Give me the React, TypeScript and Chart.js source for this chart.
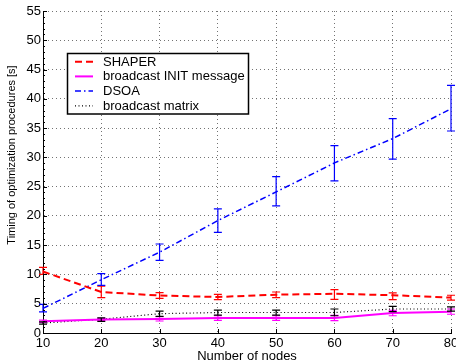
import React, { useEffect, useRef } from "react";
import { Chart, registerables } from "chart.js";

Chart.register(...registerables);

const nodes = [10, 20, 30, 40, 50, 60, 70, 80];

const shaperMean = [10.5, 7.0, 6.4, 6.15, 6.55, 6.7, 6.45, 6.05];
const shaperLow = [10.0, 6.05, 5.9, 5.7, 6.05, 5.75, 5.7, 5.6];
const shaperHigh = [11.2, 8.0, 6.9, 6.6, 7.0, 7.4, 6.85, 6.45];

const initMean = [2.0, 2.3, 2.4, 2.55, 2.55, 2.55, 3.4, 3.65];
const initLow = [1.8, 2.1, 2.05, 2.15, 2.15, 2.1, 2.95, 3.2];
const initHigh = [2.2, 2.5, 2.8, 2.95, 2.95, 3.0, 3.85, 4.1];

const dsoaMean = [4.2, 9.1, 13.8, 19.2, 24.1, 29.05, 33.2, 38.3];
const dsoaLow = [3.6, 8.15, 12.4, 17.2, 21.7, 26.0, 29.7, 34.5];
const dsoaHigh = [4.9, 10.15, 15.2, 21.2, 26.7, 32.0, 36.6, 42.3];

const matrixMean = [1.7, 2.35, 3.3, 3.5, 3.5, 3.5, 4.1, 4.1];
const matrixLow = [1.5, 2.0, 2.85, 3.05, 3.05, 2.95, 3.65, 3.75];
const matrixHigh = [1.9, 2.6, 3.75, 3.9, 3.9, 4.1, 4.55, 4.45];

const seriesLabels = ["SHAPER", "broadcast INIT message", "DSOA", "broadcast matrix"];
const xTitle = "Number of nodes";
const yTitle = "Timing of optimization procedures [s]";

const FONT = "'Liberation Sans', Arial, sans-serif";

const toPts = (m: number[]) => m.map((v, i) => ({ x: nodes[i], y: v }));

const errorBarPlugin = {
  id: "errorBars",
  afterDatasetsDraw(chart: any) {
    const { ctx, scales } = chart;
    const xs = scales.x;
    const ys = scales.y;
    chart.data.datasets.forEach((ds: any) => {
      ctx.save();
      ctx.strokeStyle = ds.borderColor;
      ctx.lineWidth = 1.2;
      ctx.setLineDash([]);
      ds.errLow.forEach((lo: number, i: number) => {
        const px = xs.getPixelForValue(nodes[i]);
        const yl = ys.getPixelForValue(lo);
        const yh = ys.getPixelForValue(ds.errHigh[i]);
        ctx.beginPath();
        ctx.moveTo(px, yl);
        ctx.lineTo(px, yh);
        ctx.moveTo(px - 4, yl);
        ctx.lineTo(px + 4, yl);
        ctx.moveTo(px - 4, yh);
        ctx.lineTo(px + 4, yh);
        ctx.stroke();
      });
      ctx.restore();
    });
  },
};

const decorPlugin = {
  id: "decor",
  afterDraw(chart: any) {
    const { ctx, scales, chartArea } = chart;
    const xs = scales.x;
    const ys = scales.y;
    ctx.save();
    ctx.strokeStyle = "#000";
    ctx.lineWidth = 1;
    ctx.setLineDash([]);
    // inward ticks on y axis (major + minor)
    for (let v = 0; v <= 55; v += 1) {
      const py = Math.round(ys.getPixelForValue(v)) + 0.5;
      const len = v % 5 === 0 ? 4 : 2;
      ctx.beginPath();
      ctx.moveTo(chartArea.left, py);
      ctx.lineTo(chartArea.left + len, py);
      ctx.stroke();
    }
    // inward ticks on x axis
    nodes.forEach((n) => {
      const px = Math.round(xs.getPixelForValue(n)) + 0.5;
      ctx.beginPath();
      ctx.moveTo(px, chartArea.bottom);
      ctx.lineTo(px, chartArea.bottom - 4);
      ctx.stroke();
    });
    // y title
    ctx.fillStyle = "#000";
    ctx.font = "11px " + FONT;
    ctx.textAlign = "center";
    ctx.textBaseline = "middle";
    ctx.translate(12, 155);
    ctx.rotate(-Math.PI / 2);
    ctx.fillText(yTitle, 0, 0);
    ctx.restore();

    // legend box
    ctx.save();
    const bx = 67.5, by = 53.5, bw = 181, bh = 60.5;
    ctx.fillStyle = "#fff";
    ctx.fillRect(bx, by, bw, bh);
    ctx.strokeStyle = "#000";
    ctx.lineWidth = 1.5;
    ctx.strokeRect(bx, by, bw, bh);
    ctx.font = "13px " + FONT;
    ctx.textAlign = "left";
    ctx.textBaseline = "middle";
    chart.data.datasets.forEach((ds: any, i: number) => {
      const yy = 61.7 + i * 14.7;
      ctx.strokeStyle = ds.borderColor;
      ctx.lineWidth = ds.borderWidth;
      ctx.setLineDash(ds.borderDash || []);
      ctx.beginPath();
      ctx.moveTo(75, yy);
      ctx.lineTo(93, yy);
      ctx.stroke();
      ctx.setLineDash([]);
      ctx.fillStyle = "#000";
      ctx.fillText(ds.label, 103, yy + 0.5);
    });
    ctx.restore();
  },
};

export default function App() {
  const ref = useRef<HTMLCanvasElement | null>(null);
  useEffect(() => {
    document.body.style.margin = "0";
    if (!ref.current) return;
    const mk = (
      label: string,
      mean: number[],
      lo: number[],
      hi: number[],
      color: string,
      width: number,
      dash: number[]
    ) => ({
      label,
      data: toPts(mean),
      errLow: lo,
      errHigh: hi,
      borderColor: color,
      backgroundColor: color,
      borderWidth: width,
      borderDash: dash,
      pointRadius: 0,
      tension: 0,
      fill: false,
      clip: 10,
    });
    const chart = new Chart(ref.current, {
      type: "line",
      data: {
        datasets: [
          mk(seriesLabels[0], shaperMean, shaperLow, shaperHigh, "#ff0000", 2, [7, 4]),
          mk(seriesLabels[1], initMean, initLow, initHigh, "#ff00ff", 2, []),
          mk(seriesLabels[2], dsoaMean, dsoaLow, dsoaHigh, "#0000ff", 1.5, [6, 3, 1.5, 3]),
          mk(seriesLabels[3], matrixMean, matrixLow, matrixHigh, "#000000", 1.2, [1, 2.5]),
        ] as any,
      },
      options: {
        animation: false,
        responsive: false,
        layout: { padding: { top: 11, right: 5, left: 0, bottom: 0 } },
        plugins: { legend: { display: false }, tooltip: { enabled: false } },
        scales: {
          x: {
            type: "linear",
            min: 10,
            max: 80,
            afterFit: (s: any) => {
              s.height = 31;
              s.paddingLeft = 0;
              s.paddingRight = 0;
            },
            ticks: {
              stepSize: 10,
              padding: 3,
              color: "#000",
              font: { family: FONT, size: 13 },
              maxRotation: 0,
            },
            grid: { color: "rgba(0,0,0,0.55)", drawTicks: false, lineWidth: 1 },
            border: { display: true, color: "#000", width: 1, dash: [1, 3] },
            title: {
              display: true,
              text: xTitle,
              color: "#000",
              font: { family: FONT, size: 13 },
              padding: { top: 0, bottom: 0 },
            },
          },
          y: {
            type: "linear",
            min: 0,
            max: 55,
            afterFit: (s: any) => {
              s.width = 43;
              s.paddingTop = 0;
              s.paddingBottom = 0;
            },
            ticks: {
              stepSize: 5,
              padding: 2,
              color: "#000",
              font: { family: FONT, size: 13 },
            },
            grid: { color: "rgba(0,0,0,0.55)", drawTicks: false, lineWidth: 1 },
            border: { display: true, color: "#000", width: 1, dash: [1, 3] },
          },
        },
      },
      plugins: [errorBarPlugin, decorPlugin],
    } as any);
    return () => chart.destroy();
  }, []);
  return <canvas ref={ref} width={456} height={364} style={{ display: "block" }} />;
}
